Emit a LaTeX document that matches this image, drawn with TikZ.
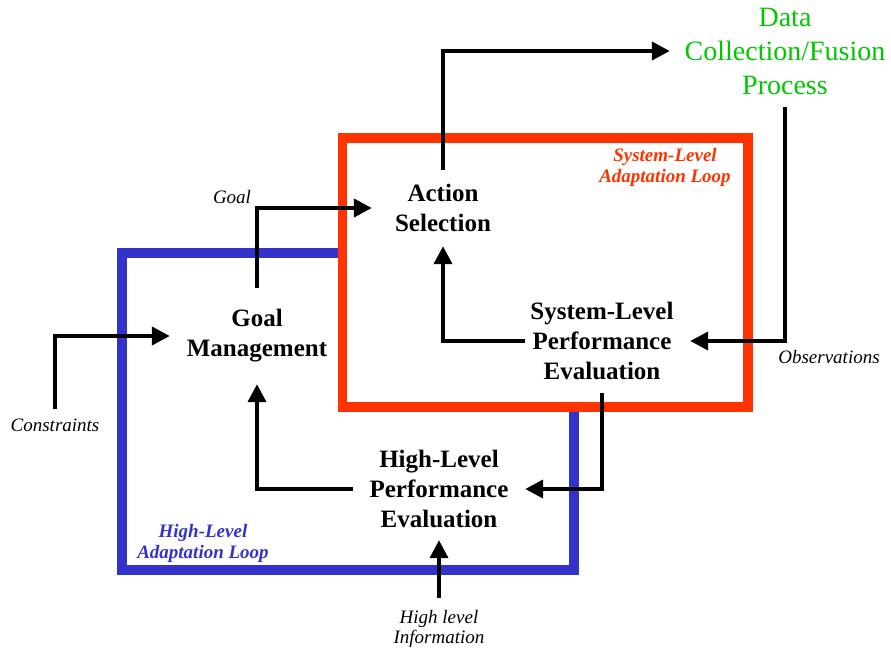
\documentclass[tikz,border=0pt]{standalone}
\usepackage{fontspec}
\setmainfont{Liberation Serif}
\usetikzlibrary{arrows.meta}

\definecolor{loopred}{RGB}{255,51,0}
\definecolor{loopblue}{RGB}{51,51,204}
\definecolor{datagreen}{RGB}{0,200,0}

\begin{document}
\begin{tikzpicture}[x=1pt,y=-1pt,
  frame/.style={line width=9.5pt},
  proc/.style={align=center,inner sep=0pt,font=\fontsize{25}{30}\selectfont\bfseries},
  note/.style={align=center,inner sep=1pt,font=\fontsize{19}{21}\selectfont\itshape},
  looplabel/.style={align=center,inner sep=0pt,font=\fontsize{19}{21}\selectfont\bfseries\itshape},
  arr/.style={line width=4pt,-{Triangle[length=18pt,width=18pt]}}]
\useasboundingbox (0,0) rectangle (891,651);

% the two adaptation loops; the system-level one sits on top
\draw[frame,loopblue] (122,253) rectangle (574,570);
\draw[frame,loopred,fill=white] (342.5,138) rectangle (748,407);

% processes
\node[proc,minimum width=142pt,minimum height=76pt] (act) at (443,208) {Action\\Selection};
\node[proc,minimum width=174pt,minimum height=96pt] (goal) at (257,336) {Goal\\Management};
\node[proc,minimum width=154pt,minimum height=104pt] (slpe) at (602,341) {System-Level\\Performance\\Evaluation};
\node[proc,minimum width=172pt,minimum height=102pt] (hlpe) at (439,489) {High-Level\\Performance\\Evaluation};
\node[align=center,inner sep=0pt,minimum width=230pt,minimum height=112pt,
      text=datagreen,font=\fontsize{28}{34}\selectfont] (data) at (785,51) {Data\\Collection/Fusion\\Process};

% loop captions
\node[looplabel,text=loopred] at (665,167) {System-Level\\Adaptation Loop};
\node[looplabel,text=loopblue] at (203,543) {High-Level\\Adaptation Loop};

% external inputs and annotations
\node[note] at (232,197) {Goal};
\node[note,inner ysep=9pt] (cons) at (55,425) {Constraints};
\node[note] at (829,357) {Observations};
\node[note,inner ysep=12pt,font=\fontsize{19}{20}\selectfont\itshape] (info) at (439,629) {High level\\Information};

% information flow
\draw[arr] (act.north) |- (data.west);
\draw[arr] (data.south) |- ([xshift=11pt]slpe.east);
\draw[arr] (slpe.west) -| (act.south);
\draw[arr] (slpe.south) |- (hlpe.east);
\draw[arr] (hlpe.west) -| (goal.south);
\draw[arr] (goal.north) |- (act.west);
\draw[arr] (cons.north) |- (goal.west);
\draw[arr] (info.north) -- (hlpe.south);
\end{tikzpicture}
\end{document}
